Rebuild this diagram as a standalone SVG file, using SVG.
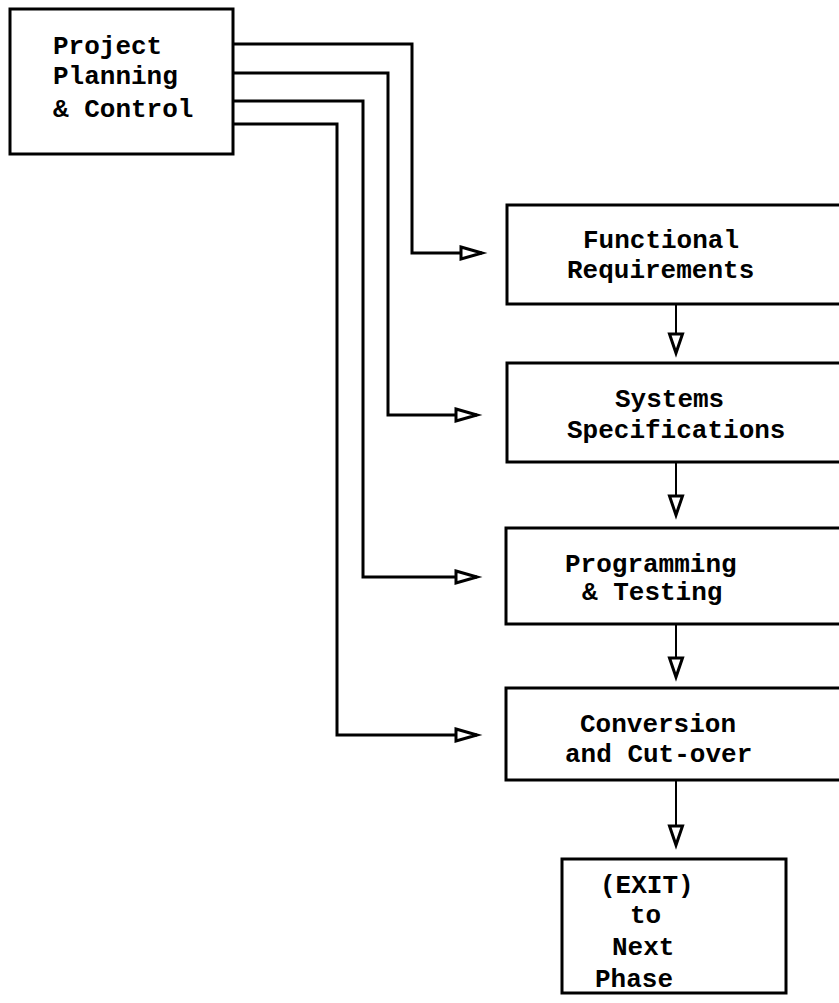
<svg xmlns="http://www.w3.org/2000/svg" width="839" height="1003" viewBox="0 0 839 1003">
<defs>
<style>
.box{fill:#fff;stroke:#000;stroke-width:3}
.lbl{font-family:"Liberation Mono","DejaVu Sans Mono",monospace;font-weight:bold;font-size:26px;fill:#000}
.conn{fill:none;stroke:#000;stroke-width:3}
.down{fill:none;stroke:#000;stroke-width:2}
</style>
<marker id="ah" markerUnits="userSpaceOnUse" markerWidth="24" markerHeight="16" refX="22" refY="7" orient="auto" overflow="visible">
<path d="M1,1 L22,7 L1,13 Z" fill="#fff" stroke="#000" stroke-width="3" stroke-linejoin="miter"/>
</marker>
<marker id="av" markerUnits="userSpaceOnUse" markerWidth="22" markerHeight="16" refX="20" refY="7.5" orient="auto" overflow="visible">
<path d="M1,1 L20,7.5 L1,14 Z" fill="#fff" stroke="#000" stroke-width="3"/>
</marker>
</defs>
<rect width="839" height="1003" fill="#fff"/>

<g id="connectors">
<path class="conn" d="M233,44 H412 V253 H482" marker-end="url(#ah)"/>
<path class="conn" d="M233,73 H388 V415 H477" marker-end="url(#ah)"/>
<path class="conn" d="M233,101 H363 V577 H477" marker-end="url(#ah)"/>
<path class="conn" d="M233,124 H337 V735 H477" marker-end="url(#ah)"/>
<path class="down" d="M676,304 V353" marker-end="url(#av)"/>
<path class="down" d="M676,462 V515" marker-end="url(#av)"/>
<path class="down" d="M676,624 V677" marker-end="url(#av)"/>
<path class="down" d="M676,780 V845" marker-end="url(#av)"/>
</g>

<g id="project">
<rect class="box" x="10" y="9" width="223" height="145"/>
<text class="lbl" x="53" y="54">Project</text>
<text class="lbl" x="53" y="84">Planning</text>
<text class="lbl" x="53" y="117">&amp; Control</text>
</g>

<g id="functional">
<rect class="box" x="507" y="205" width="345" height="99"/>
<text class="lbl" x="583" y="248">Functional</text>
<text class="lbl" x="567" y="278">Requirements</text>
</g>

<g id="systems">
<rect class="box" x="507" y="363" width="345" height="99"/>
<text class="lbl" x="615" y="407">Systems</text>
<text class="lbl" x="567" y="438">Specifications</text>
</g>

<g id="programming">
<rect class="box" x="506" y="528" width="346" height="96"/>
<text class="lbl" x="565" y="572">Programming</text>
<text class="lbl" x="582" y="600">&amp; Testing</text>
</g>

<g id="conversion">
<rect class="box" x="506" y="688" width="346" height="92"/>
<text class="lbl" x="580" y="732">Conversion</text>
<text class="lbl" x="565" y="762">and Cut-over</text>
</g>

<g id="exit">
<rect class="box" x="562" y="859" width="224" height="134"/>
<text class="lbl" x="600" y="893">(EXIT)</text>
<text class="lbl" x="630" y="923">to</text>
<text class="lbl" x="612" y="955">Next</text>
<text class="lbl" x="595" y="987">Phase</text>
</g>
</svg>
